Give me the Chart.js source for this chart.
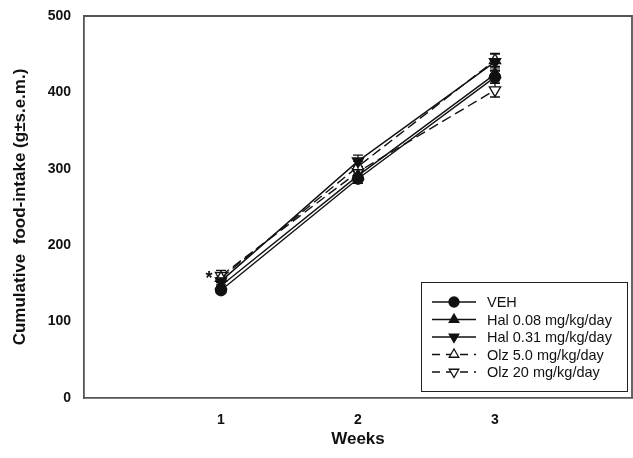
<!DOCTYPE html>
<html>
<head>
<meta charset="utf-8">
<script src="https://cdn.jsdelivr.net/npm/chart.js@4"></script>
<style>
  html, body { margin: 0; padding: 0; background: #fff; }
  #wrap { width: 633px; height: 458px; }
</style>
</head>
<body>
<div id="wrap"><canvas id="foodChart" width="633" height="458"></canvas></div>
<script>
const weeks = [1, 2, 3];
const yTicks = [0, 100, 200, 300, 400, 500];

const seriesNames = ['VEH', 'Hal 0.08 mg/kg/day', 'Hal 0.31 mg/kg/day', 'Olz 5.0 mg/kg/day', 'Olz 20 mg/kg/day'];
const veh    = [141, 287, 420];
const hal008 = [147, 291, 424];
const hal031 = [153, 310, 440];
const olz5   = [157, 303, 442];
const olz20  = [160, 296, 403];

const vehSem    = [4, 6, 8];
const hal008Sem = [5, 6, 8];
const hal031Sem = [5, 8, 11];
const olz5Sem   = [6, 7, 8];
const olz20Sem  = [7, 7, 9];

const FONT = "'Liberation Sans', Arial, sans-serif";

function makeSet(label, values, sem, style, rotation, filled, dashed) {
    return {
        label: label,
        data: weeks.map((w, i) => ({ x: w, y: values[i] })),
        sem: sem,
        borderColor: '#111',
        borderWidth: 1.4,
        borderDash: dashed ? [10, 5] : [],
        pointStyle: style,
        rotation: rotation,
        pointRadius: style === 'circle' ? 5.5 : 6.5,
        pointBorderWidth: 1.3,
        pointBorderColor: '#111',
        pointBackgroundColor: filled ? '#111' : '#fff',
        tension: 0,
        fill: false
    };
}

const datasets = [
    makeSet(seriesNames[0], veh, vehSem, 'circle', 0, true, false),
    makeSet(seriesNames[1], hal008, hal008Sem, 'triangle', 0, true, false),
    makeSet(seriesNames[2], hal031, hal031Sem, 'triangle', 180, true, false),
    makeSet(seriesNames[3], olz5, olz5Sem, 'triangle', 0, false, true),
    makeSet(seriesNames[4], olz20, olz20Sem, 'triangle', 180, false, true)
];

// error bars under the markers
const errorBars = {
    id: 'errorBars',
    beforeDatasetsDraw(chart) {
        const ctx = chart.ctx;
        const xs = chart.scales.x, ys = chart.scales.y;
        ctx.save();
        ctx.strokeStyle = '#111';
        ctx.lineWidth = 1.3;
        chart.data.datasets.forEach(ds => {
            ds.data.forEach((p, i) => {
                const x = xs.getPixelForValue(p.x);
                const hi = ys.getPixelForValue(p.y + ds.sem[i]);
                const lo = ys.getPixelForValue(p.y - ds.sem[i]);
                ctx.beginPath();
                ctx.moveTo(x, hi); ctx.lineTo(x, lo);
                ctx.moveTo(x - 5, hi); ctx.lineTo(x + 5, hi);
                ctx.moveTo(x - 5, lo); ctx.lineTo(x + 5, lo);
                ctx.stroke();
            });
        });
        ctx.restore();
    }
};

// frame, asterisk and boxed legend
const extras = {
    id: 'extras',
    afterDraw(chart) {
        const ctx = chart.ctx;
        const a = chart.chartArea;
        const xs = chart.scales.x, ys = chart.scales.y;
        ctx.save();
        ctx.strokeStyle = '#555';
        ctx.lineWidth = 1.8;
        ctx.beginPath();
        ctx.moveTo(a.left, a.top);
        ctx.lineTo(a.right, a.top);
        ctx.lineTo(a.right, a.bottom);
        ctx.stroke();

        // significance mark at week 1
        ctx.fillStyle = '#111';
        ctx.font = 'bold 18px ' + FONT;
        ctx.textAlign = 'center';
        ctx.textBaseline = 'middle';
        ctx.fillText('*', xs.getPixelForValue(1) - 12, ys.getPixelForValue(159) + 3);

        // legend box
        const bx = 421, by = 282, bw = 206, bh = 109;
        ctx.strokeStyle = '#222';
        ctx.lineWidth = 1;
        ctx.strokeRect(bx + 0.5, by + 0.5, bw, bh);
        ctx.font = '14.5px ' + FONT;
        ctx.textAlign = 'left';
        chart.data.datasets.forEach((ds, i) => {
            const y = by + 20 + i * 17.5;
            ctx.strokeStyle = '#111';
            ctx.lineWidth = 1.3;
            ctx.setLineDash(ds.borderDash.length ? [8, 6] : []);
            ctx.beginPath();
            ctx.moveTo(432, y); ctx.lineTo(476, y);
            ctx.stroke();
            ctx.setLineDash([]);
            ctx.fillStyle = ds.pointBackgroundColor;
            ctx.strokeStyle = ds.pointBorderColor;
            Chart.helpers.drawPoint(ctx, {
                pointStyle: ds.pointStyle,
                rotation: ds.rotation,
                radius: ds.pointStyle === 'circle' ? 5 : 5.5,
                borderWidth: 1.2
            }, 454, y);
            ctx.fillStyle = '#111';
            ctx.fillText(ds.label, 487, y + 1);
        });
        ctx.restore();
    }
};

new Chart(document.getElementById('foodChart').getContext('2d'), {
    type: 'line',
    data: { datasets: datasets },
    options: {
        responsive: false,
        animation: false,
        layout: { autoPadding: false, padding: { top: 16, right: 1, left: 0, bottom: 0 } },
        plugins: {
            legend: { display: false },
            tooltip: { enabled: false }
        },
        scales: {
            x: {
                type: 'linear',
                min: 0,
                max: 4,
                afterBuildTicks: s => { s.ticks = weeks.map(v => ({ value: v })); },
                afterFit: s => { s.height = 60; },
                grid: { display: false, drawTicks: true, tickLength: 6, tickColor: '#555' },
                border: { display: true, color: '#555', width: 1.8 },
                ticks: {
                    color: '#111',
                    padding: 8,
                    font: { family: FONT, size: 14, weight: 'bold' }
                },
                title: {
                    display: true,
                    text: 'Weeks',
                    color: '#111',
                    padding: { top: 4, bottom: 8 },
                    font: { family: FONT, size: 17, weight: 'bold' }
                }
            },
            y: {
                min: 0,
                max: 500,
                afterBuildTicks: s => { s.ticks = yTicks.map(v => ({ value: v })); },
                afterFit: s => { s.width = 84; },
                grid: { display: false, drawTicks: true, tickLength: 6, tickColor: '#555' },
                border: { display: true, color: '#555', width: 1.8 },
                ticks: {
                    color: '#111',
                    padding: 7,
                    font: { family: FONT, size: 14, weight: 'bold' }
                },
                title: {
                    display: true,
                    text: 'Cumulative  food-intake (g±s.e.m.)',
                    color: '#111',
                    padding: { top: 10, bottom: 4 },
                    font: { family: FONT, size: 17, weight: 'bold' }
                }
            }
        }
    },
    plugins: [errorBars, extras]
});
</script>
</body>
</html>
